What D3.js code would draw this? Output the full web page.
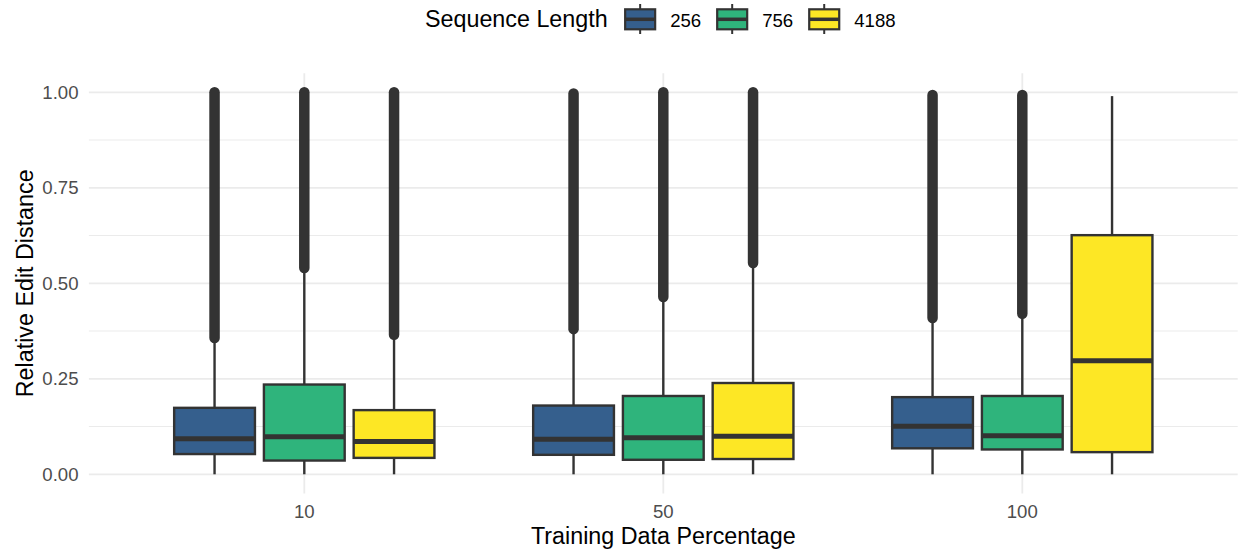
<!DOCTYPE html>
<html>
<head>
<meta charset="utf-8">
<script src="https://cdn.jsdelivr.net/npm/d3@7"></script>
<style>
  html, body { margin: 0; padding: 0; background: #ffffff; }
  svg { display: block; font-family: "Liberation Sans", Arial, sans-serif; }
</style>
</head>
<body>
<svg id="chart" width="1238" height="556"></svg>
<script>
// ---- data ----
const categories = ["10", "50", "100"];
const seriesNames = ["256", "756", "4188"];
const seriesColors = ["#355F8D", "#2FB47C", "#FDE725"];
const yTicks = [0, 0.25, 0.5, 0.75, 1];
const yMinorTicks = [0.125, 0.375, 0.625, 0.875];

// indexed [series][category]
const q1Values     = [[0.053, 0.051, 0.068], [0.036, 0.038, 0.065], [0.043, 0.040, 0.058]];
const medianValues = [[0.093, 0.092, 0.126], [0.098, 0.096, 0.101], [0.086, 0.0995, 0.297]];
const q3Values     = [[0.174, 0.180, 0.202], [0.235, 0.205, 0.205], [0.168, 0.239, 0.626]];
const whiskerLow   = [[0, 0, 0], [0, 0, 0], [0, 0, 0]];
const whiskerHigh  = [[0.345, 0.370, 0.400], [0.530, 0.455, 0.410], [0.355, 0.545, 0.990]];
const outlierLow   = [[0.357, 0.380, 0.409], [0.540, 0.464, 0.420], [0.365, 0.553, null]];
const outlierHigh  = [[1.000, 0.997, 0.993], [1.000, 1.000, 0.993], [1.000, 1.000, null]];

// ---- layout ----
const svg = d3.select("#chart");
const panel = { left: 88.9, top: 73.2, bottom: 493.4 };
const unit = 359;
const x = d3.scaleLinear().domain([0.4, 3.6]).range([panel.left, panel.left + 3.2 * unit]);
const y = d3.scaleLinear().domain([-0.05, 1.05]).range([panel.bottom, panel.top]);
const panelRight = Math.min(1238, x(3.6));

const dodge = 0.75, nS = seriesNames.length;
const slot = dodge / nS;
const boxW = x(slot * 0.9) - x(0);

const records = [];
seriesNames.forEach((s, si) => {
  categories.forEach((c, ci) => {
    records.push({
      si, ci,
      cx: x(ci + 1 - dodge / 2 + slot * (si + 0.5)),
      q1: q1Values[si][ci], med: medianValues[si][ci], q3: q3Values[si][ci],
      wl: whiskerLow[si][ci], wh: whiskerHigh[si][ci],
      ol: outlierLow[si][ci], oh: outlierHigh[si][ci]
    });
  });
});

const ink = "#333333";
const grid = svg.append("g");
// minor horizontal grid
grid.selectAll("line.minor").data(yMinorTicks).join("line")
  .attr("x1", panel.left).attr("x2", panelRight)
  .attr("y1", d => y(d)).attr("y2", d => y(d))
  .attr("stroke", "#EBEBEB").attr("stroke-width", 1.1);
// major horizontal grid
grid.selectAll("line.majorY").data(yTicks).join("line")
  .attr("x1", panel.left).attr("x2", panelRight)
  .attr("y1", d => y(d)).attr("y2", d => y(d))
  .attr("stroke", "#EBEBEB").attr("stroke-width", 1.8);
// vertical major grid
grid.selectAll("line.majorX").data(categories).join("line")
  .attr("x1", (d, i) => x(i + 1)).attr("x2", (d, i) => x(i + 1))
  .attr("y1", panel.top).attr("y2", panel.bottom)
  .attr("stroke", "#EBEBEB").attr("stroke-width", 1.8);

// outliers (dense columns of points)
const marks = svg.append("g");
marks.selectAll("line.out").data(records.filter(r => r.ol != null)).join("line")
  .attr("x1", d => d.cx).attr("x2", d => d.cx)
  .attr("y1", d => y(d.ol)).attr("y2", d => y(d.oh))
  .attr("stroke", ink).attr("stroke-width", 10.5).attr("stroke-linecap", "round");

// whiskers
marks.selectAll("line.wu").data(records).join("line")
  .attr("x1", d => d.cx).attr("x2", d => d.cx)
  .attr("y1", d => y(d.q3)).attr("y2", d => y(d.wh))
  .attr("stroke", ink).attr("stroke-width", 2.4);
marks.selectAll("line.wl").data(records).join("line").attr("class", "wl")
  .attr("x1", d => d.cx).attr("x2", d => d.cx)
  .attr("y1", d => y(d.q1)).attr("y2", d => y(d.wl))
  .attr("stroke", ink).attr("stroke-width", 2.4);

// boxes
marks.selectAll("rect.box").data(records).join("rect")
  .attr("x", d => d.cx - boxW / 2).attr("width", boxW)
  .attr("y", d => y(d.q3)).attr("height", d => y(d.q1) - y(d.q3))
  .attr("fill", d => seriesColors[d.si])
  .attr("stroke", ink).attr("stroke-width", 2.4);
// medians
marks.selectAll("line.med").data(records).join("line")
  .attr("x1", d => d.cx - boxW / 2).attr("x2", d => d.cx + boxW / 2)
  .attr("y1", d => y(d.med)).attr("y2", d => y(d.med))
  .attr("stroke", ink).attr("stroke-width", 5);

// y axis labels
const tickFont = 18.6;
svg.append("g").selectAll("text").data(yTicks).join("text")
  .attr("x", 78.5).attr("y", d => y(d)).attr("dy", "0.36em")
  .attr("text-anchor", "end").attr("font-size", tickFont).attr("fill", "#4D4D4D")
  .text(d => d3.format(".2f")(d));
// x axis labels
svg.append("g").selectAll("text").data(categories).join("text")
  .attr("x", (d, i) => x(i + 1)).attr("y", 518.3)
  .attr("text-anchor", "middle").attr("font-size", tickFont).attr("fill", "#4D4D4D")
  .text(d => d);

// axis titles
const titleFont = 23.3;
svg.append("text")
  .attr("x", x(2)).attr("y", 544.3).attr("text-anchor", "middle")
  .attr("font-size", titleFont).attr("fill", "#000").text("Training Data Percentage");
svg.append("text")
  .attr("transform", `translate(33.3, ${(y(-0.05) + y(1.05)) / 2}) rotate(-90)`)
  .attr("text-anchor", "middle")
  .attr("font-size", titleFont).attr("fill", "#000").text("Relative Edit Distance");

// legend
const legend = svg.append("g");
const legTitle = legend.append("text")
  .attr("x", 425).attr("y", 27.3).attr("font-size", titleFont).attr("fill", "#000")
  .text("Sequence Length");
let lx = 425 + legTitle.node().getComputedTextLength() + 17.5;
const keyW = 30, keyTop = 9.3, keyBot = 29.3, keyMid = (keyTop + keyBot) / 2;
seriesNames.forEach((s, i) => {
  const g = legend.append("g");
  const kc = lx + keyW / 2;
  g.append("line").attr("x1", kc).attr("x2", kc).attr("y1", keyTop - 5.3).attr("y2", keyBot + 4.7)
    .attr("stroke", ink).attr("stroke-width", 2);
  g.append("rect").attr("x", lx).attr("y", keyTop).attr("width", keyW).attr("height", keyBot - keyTop)
    .attr("fill", seriesColors[i]).attr("stroke", ink).attr("stroke-width", 2.2);
  g.append("line").attr("x1", lx).attr("x2", lx + keyW).attr("y1", keyMid).attr("y2", keyMid)
    .attr("stroke", ink).attr("stroke-width", 3.5);
  const t = g.append("text").attr("x", lx + keyW + 15).attr("y", 26.7)
    .attr("font-size", tickFont).attr("fill", "#000").text(s);
  lx = lx + keyW + 15 + t.node().getComputedTextLength() + 16;
});
</script>
</body>
</html>
